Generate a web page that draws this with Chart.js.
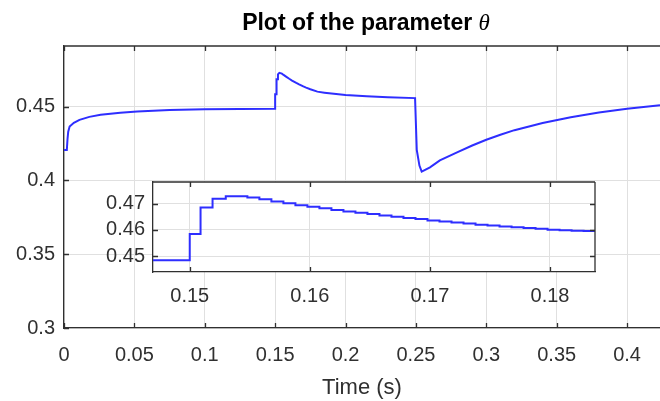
<!DOCTYPE html>
<html>
<head>
<meta charset="utf-8">
<script src="https://cdn.jsdelivr.net/npm/chart.js@4.4.1/dist/chart.umd.min.js"></script>
<style>
    html, body { margin: 0; padding: 0; background: #fff; }
    #wrap { position: relative; width: 660px; height: 401px; overflow: hidden; }
    #mainChart { position: absolute; left: 0; top: 0; }
    #insetChart { position: absolute; left: 90px; top: 176px; }
</style>
</head>
<body>
<div id="wrap">
    <canvas id="mainChart" width="660" height="401"></canvas>
    <canvas id="insetChart" width="515" height="135"></canvas>
</div>
<script>
    // main trace
    const mainTime = [0, 0.002, 0.0025, 0.003, 0.004, 0.007, 0.011, 0.018, 0.026, 0.04, 0.052, 0.075, 0.1, 0.125, 0.1499,
        0.15, 0.1509, 0.151, 0.1519, 0.152, 0.153, 0.1548, 0.156, 0.158, 0.16, 0.162, 0.165, 0.167, 0.17, 0.172, 0.175,
        0.18, 0.185, 0.19, 0.2, 0.215, 0.23, 0.2494, 0.2506, 0.2525, 0.2541, 0.26, 0.267, 0.28, 0.29, 0.3, 0.31, 0.32,
        0.34, 0.36, 0.38, 0.4, 0.4234];
    const mainTheta = [0.4205, 0.4205, 0.428, 0.433, 0.4365, 0.439, 0.441, 0.443, 0.4444, 0.4458, 0.4467, 0.4476, 0.4482, 0.4484, 0.4485,
        0.4584, 0.4584, 0.4685, 0.4685, 0.4718, 0.4728, 0.4723, 0.4714, 0.4701, 0.4688, 0.4676, 0.4660, 0.4650, 0.4636, 0.4628, 0.4617,
        0.4601, 0.4594, 0.4588, 0.4578, 0.4569, 0.4563, 0.4557, 0.4206, 0.410, 0.4059, 0.4088, 0.4135, 0.4193, 0.4236, 0.4275, 0.4309, 0.434,
        0.4388, 0.4428, 0.446, 0.4485, 0.4508];

    // zoomed (sampled) trace for the inset
    const insetTime = [0.1469, 0.15, 0.1509, 0.1519, 0.153, 0.1548, 0.1558, 0.1568, 0.1578, 0.1588, 0.1598, 0.1608, 0.1618,
        0.1628, 0.1638, 0.1648, 0.1658, 0.1668, 0.1678, 0.1688, 0.1698, 0.1708, 0.1718, 0.1728, 0.1738, 0.1748,
        0.1758, 0.1768, 0.1778, 0.1788, 0.1798, 0.1808, 0.1818, 0.1828, 0.1838];
    const insetTheta = [0.4485, 0.4584, 0.4685, 0.4718, 0.4728, 0.4723, 0.4716, 0.4708, 0.4701, 0.4694, 0.4688, 0.4682, 0.4676,
        0.4670, 0.4665, 0.4660, 0.4655, 0.4650, 0.4645, 0.4641, 0.4636, 0.4632, 0.4628, 0.4624, 0.4620, 0.4617,
        0.4613, 0.4610, 0.4607, 0.4604, 0.4601, 0.4599, 0.4597, 0.4596, 0.4595];

    const mainXTicks = [0, 0.05, 0.1, 0.15, 0.2, 0.25, 0.3, 0.35, 0.4];
    const mainYTicks = [0.3, 0.35, 0.4, 0.45];
    const insetXTicks = [0.15, 0.16, 0.17, 0.18];
    const insetYTicks = [0.45, 0.46, 0.47];

    const FONT = '"Liberation Sans", Arial, sans-serif';
    const AXIS = '#303030';
    const GRID = '#e0e0e0';
    const LINE = '#2e2eff';

    function fmt(v) {
        return String(+Number(v).toFixed(3));
    }

    // MATLAB style frame: inward ticks, top border (and right border for the inset)
    function framePlugin(box) {
        return {
            id: 'frame',
            beforeDraw(chart) {
                if (!box) return;
                const a = chart.chartArea;
                chart.ctx.save();
                chart.ctx.fillStyle = '#fff';
                chart.ctx.fillRect(a.left, a.top, a.right - a.left, a.bottom - a.top);
                chart.ctx.restore();
            },
            afterDraw(chart) {
                const ctx = chart.ctx;
                const a = chart.chartArea;
                const x = chart.scales.x, y = chart.scales.y;
                const len = 5;
                ctx.save();
                ctx.strokeStyle = AXIS;
                ctx.lineWidth = 1.3;
                ctx.beginPath();
                x.ticks.forEach(t => {
                    const px = Math.round(x.getPixelForValue(t.value)) + 0.5;
                    ctx.moveTo(px, a.bottom); ctx.lineTo(px, a.bottom - len);
                    ctx.moveTo(px, a.top); ctx.lineTo(px, a.top + len);
                });
                y.ticks.forEach(t => {
                    const py = Math.round(y.getPixelForValue(t.value)) + 0.5;
                    ctx.moveTo(a.left, py); ctx.lineTo(a.left + len, py);
                    if (box) { ctx.moveTo(a.right, py); ctx.lineTo(a.right - len, py); }
                });
                ctx.moveTo(a.left, a.top); ctx.lineTo(a.right, a.top);
                if (box) { ctx.moveTo(a.right, a.top); ctx.lineTo(a.right, a.bottom); }
                ctx.stroke();
                ctx.restore();
            }
        };
    }

    const titlePlugin = {
        id: 'thetaTitle',
        afterDraw(chart) {
            const ctx = chart.ctx;
            const a = chart.chartArea;
            const part1 = 'Plot of the parameter ';
            const part2 = 'θ';
            ctx.save();
            ctx.fillStyle = '#000';
            ctx.textBaseline = 'middle';
            ctx.font = 'bold 23px ' + FONT;
            const w1 = ctx.measureText(part1).width;
            ctx.font = 'italic 23px "Liberation Serif", serif';
            const w2 = ctx.measureText(part2).width;
            const x0 = (a.left + a.right) / 2 + 4 - (w1 + w2) / 2;
            ctx.font = 'bold 23px ' + FONT;
            ctx.fillText(part1, x0, 24);
            ctx.font = 'italic 23px "Liberation Serif", serif';
            ctx.fillText(part2, x0 + w1, 24);
            ctx.restore();
        }
    };

    function axis(opts) {
        return {
            type: 'linear',
            position: opts.position,
            min: opts.min,
            max: opts.max,
            grid: { color: GRID, lineWidth: 1, drawTicks: false },
            border: { display: true, color: AXIS, width: 1.3 },
            ticks: {
                color: AXIS,
                font: { family: FONT, size: 20 },
                padding: opts.padding,
                callback: fmt
            },
            title: opts.title || { display: false },
            afterBuildTicks: s => { s.ticks = opts.ticks.map(v => ({ value: v })); },
            afterFit: s => {
                if (opts.width) s.width = opts.width;
                if (opts.height) s.height = opts.height;
                s.paddingLeft = 0; s.paddingRight = 0;
                s.paddingTop = 0; s.paddingBottom = 0;
            }
        };
    }

    new Chart(document.getElementById('mainChart').getContext('2d'), {
        type: 'line',
        data: {
            datasets: [{
                data: mainTime.map((t, i) => ({ x: t, y: mainTheta[i] })),
                borderColor: LINE,
                borderWidth: 2,
                pointRadius: 0,
                tension: 0,
                fill: false
            }]
        },
        options: {
            responsive: false,
            animation: false,
            layout: { padding: { top: 46, left: 0, right: 0, bottom: 0 } },
            plugins: { legend: { display: false }, tooltip: { enabled: false } },
            scales: {
                x: axis({
                    position: 'bottom', min: 0, max: 0.4234, ticks: mainXTicks, padding: 15, height: 73,
                    title: { display: true, text: 'Time (s)', color: AXIS, font: { family: FONT, size: 22 }, padding: { top: 0, bottom: 0 } }
                }),
                y: axis({ position: 'left', min: 0.3, max: 0.491, ticks: mainYTicks, padding: 9, width: 64 })
            }
        },
        plugins: [framePlugin(false), titlePlugin]
    });

    new Chart(document.getElementById('insetChart').getContext('2d'), {
        type: 'line',
        data: {
            datasets: [{
                data: insetTime.map((t, i) => ({ x: t, y: insetTheta[i] })),
                borderColor: LINE,
                borderWidth: 2,
                pointRadius: 0,
                stepped: true,
                fill: false
            }]
        },
        options: {
            responsive: false,
            animation: false,
            layout: { padding: { top: 6, left: 0, right: 10, bottom: 0 } },
            plugins: { legend: { display: false }, tooltip: { enabled: false } },
            scales: {
                x: axis({ position: 'bottom', min: 0.14694, max: 0.18375, ticks: insetXTicks, padding: 12, height: 39 }),
                y: axis({ position: 'left', min: 0.444, max: 0.4782, ticks: insetYTicks, padding: 8, width: 63 })
            }
        },
        plugins: [framePlugin(true)]
    });
</script>
</body>
</html>
